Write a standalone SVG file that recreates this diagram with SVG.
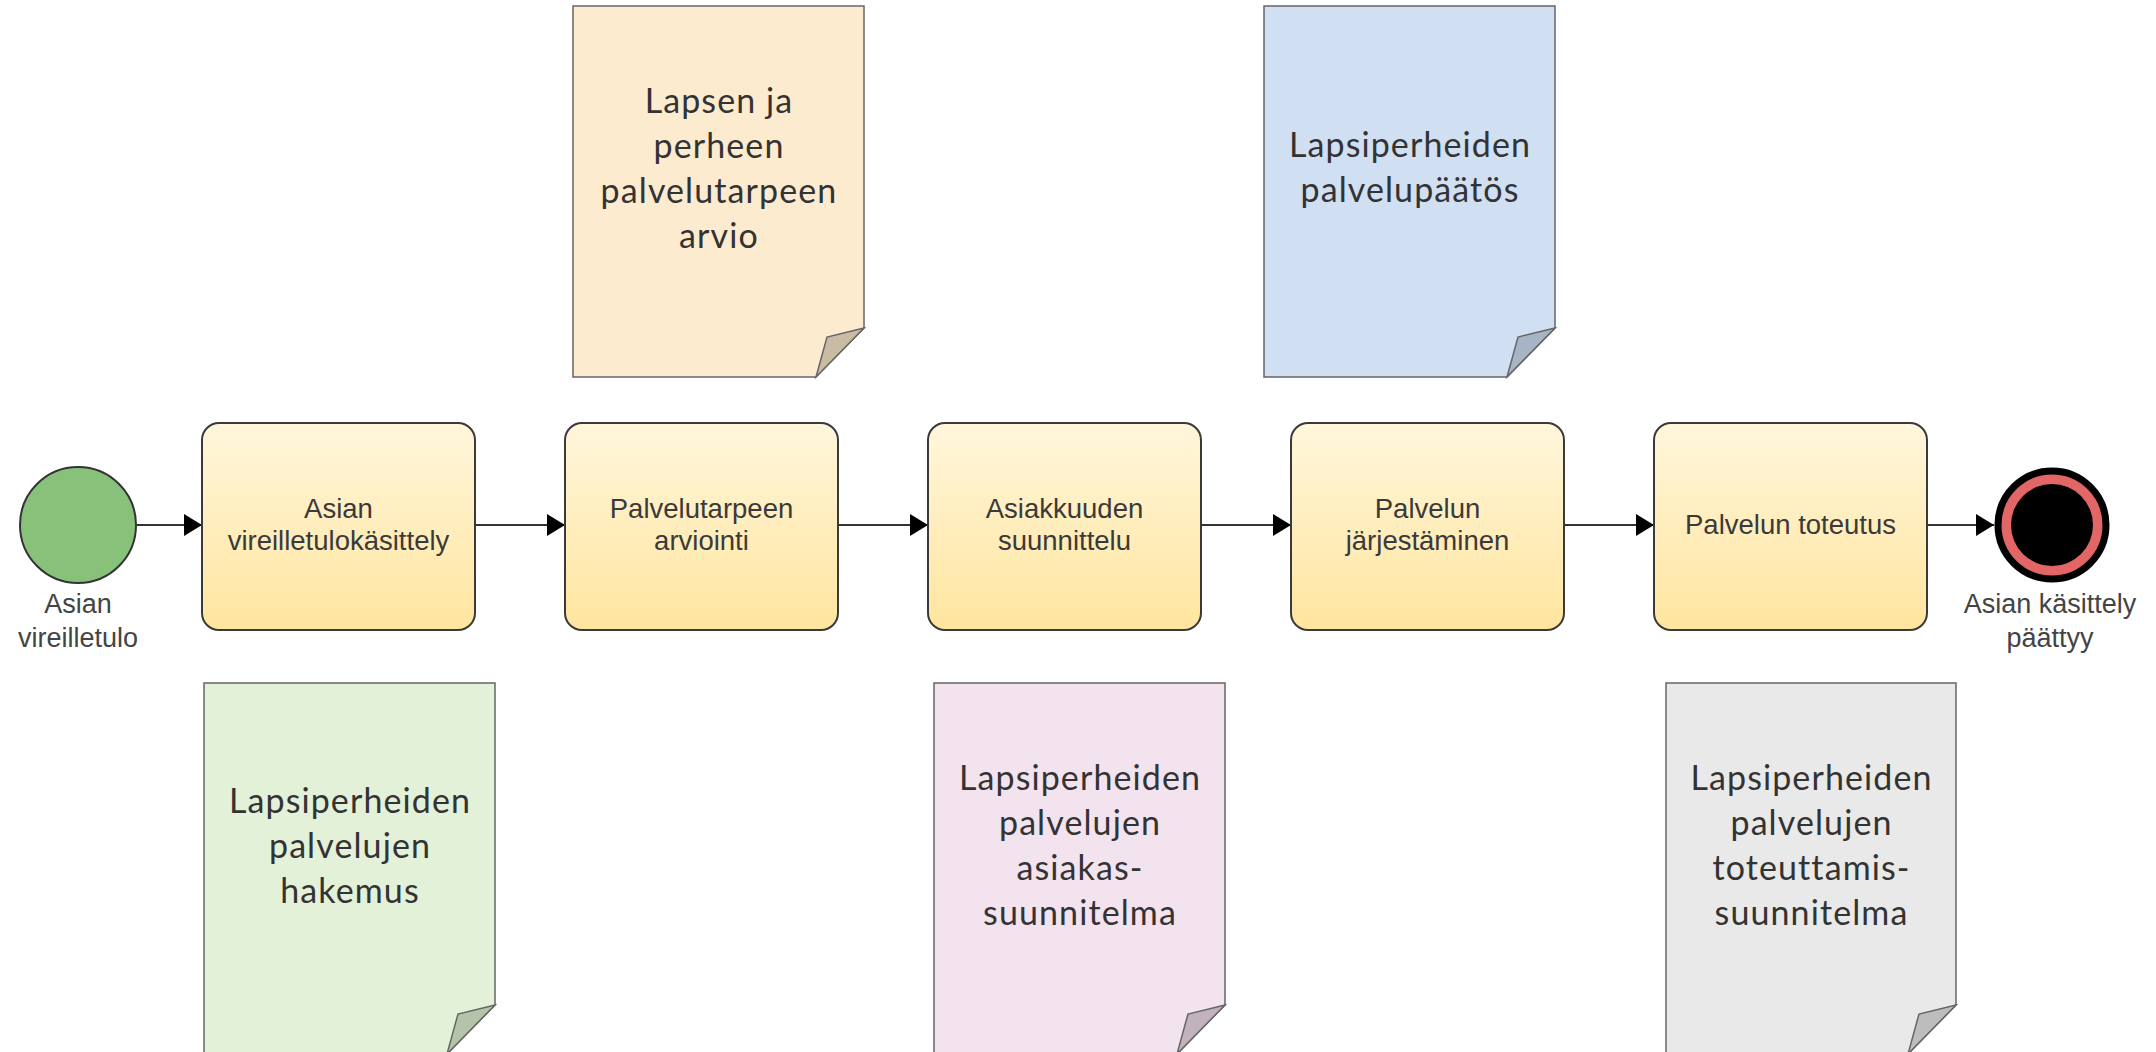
<svg xmlns="http://www.w3.org/2000/svg" width="2156" height="1052" viewBox="0 0 2156 1052">
<style>
.task{stroke:#3a3a3a;stroke-width:2;fill:url(#tg)}
.tt{font-family:"Liberation Sans",Arial,sans-serif;font-size:27.5px;fill:#3a3a3a;text-anchor:middle}
.lbl{font-family:"Liberation Sans",Arial,sans-serif;font-size:27px;fill:#444;text-anchor:middle}
.doc{stroke:#666;stroke-width:1.5}
.fold{stroke:#666;stroke-width:1.5}
.dt{font-family:"Source Sans Pro","Lato","Noto Sans",sans-serif;font-size:34px;letter-spacing:1.1px;fill:#333;text-anchor:middle}
.conn{stroke:#333;stroke-width:2;fill:none}
</style>
<defs>
<linearGradient id="tg" x1="0" y1="0" x2="0" y2="1">
<stop offset="0" stop-color="#fff6dc"/>
<stop offset="1" stop-color="#ffe59e"/>
</linearGradient>
<marker id="arr" markerUnits="userSpaceOnUse" markerWidth="18" markerHeight="22" refX="18" refY="11" orient="auto">
<path d="M0,0 L18,11 L0,22 Z" fill="#000"/>
</marker>
</defs>
<rect width="2156" height="1052" fill="#fff"/>

<g id="connectors">
<line class="conn" x1="137" y1="525" x2="202" y2="525" marker-end="url(#arr)"/>
<line class="conn" x1="475" y1="525" x2="565" y2="525" marker-end="url(#arr)"/>
<line class="conn" x1="838" y1="525" x2="928" y2="525" marker-end="url(#arr)"/>
<line class="conn" x1="1201" y1="525" x2="1291" y2="525" marker-end="url(#arr)"/>
<line class="conn" x1="1564" y1="525" x2="1654" y2="525" marker-end="url(#arr)"/>
<line class="conn" x1="1927" y1="525" x2="1994" y2="525" marker-end="url(#arr)"/>
</g>

<g id="start">
<circle cx="78" cy="525" r="58" fill="#88c27a" stroke="#333" stroke-width="2"/>
<text class="lbl" x="78" y="613">Asian</text>
<text class="lbl" x="78" y="647">vireilletulo</text>
</g>

<g id="task1">
<rect class="task" x="202" y="423" width="273" height="207" rx="17"/>
<text class="tt" x="338.5" y="518">Asian</text>
<text class="tt" x="338.5" y="550">vireilletulokäsittely</text>
</g>
<g id="task2">
<rect class="task" x="565" y="423" width="273" height="207" rx="17"/>
<text class="tt" x="701.5" y="518">Palvelutarpeen</text>
<text class="tt" x="701.5" y="550">arviointi</text>
</g>
<g id="task3">
<rect class="task" x="928" y="423" width="273" height="207" rx="17"/>
<text class="tt" x="1064.5" y="518">Asiakkuuden</text>
<text class="tt" x="1064.5" y="550">suunnittelu</text>
</g>
<g id="task4">
<rect class="task" x="1291" y="423" width="273" height="207" rx="17"/>
<text class="tt" x="1427.5" y="518">Palvelun</text>
<text class="tt" x="1427.5" y="550">järjestäminen</text>
</g>
<g id="task5">
<rect class="task" x="1654" y="423" width="273" height="207" rx="17"/>
<text class="tt" x="1790.5" y="534">Palvelun toteutus</text>
</g>

<g id="end">
<circle cx="2052" cy="525" r="54" fill="#e26666" stroke="#000" stroke-width="7"/>
<circle cx="2052" cy="525" r="41" fill="#000"/>
<text class="lbl" x="2050" y="613">Asian käsittely</text>
<text class="lbl" x="2050" y="647">päättyy</text>
</g>

<g id="doc-arvio">
<path class="doc" d="M573,6 H864 V328 L816,377 H573 Z" fill="#fdebd0"/>
<path class="fold" d="M864,328 L827,337 L816,377 Z" fill="#c9bba4"/>
<text class="dt" x="719" y="113">Lapsen ja</text>
<text class="dt" x="719" y="158">perheen</text>
<text class="dt" x="719" y="203">palvelutarpeen</text>
<text class="dt" x="719" y="248">arvio</text>
</g>

<g id="doc-paatos">
<path class="doc" d="M1264,6 H1555 V328 L1507,377 H1264 Z" fill="#d0dff1"/>
<path class="fold" d="M1555,328 L1518,337 L1507,377 Z" fill="#a7b4c6"/>
<text class="dt" x="1410" y="157">Lapsiperheiden</text>
<text class="dt" x="1410" y="202">palvelupäätös</text>
</g>

<g id="doc-hakemus">
<path class="doc" d="M204,683 H495 V1005 L447,1054 H204 Z" fill="#e3f1d9"/>
<path class="fold" d="M495,1005 L458,1014 L447,1054 Z" fill="#b5c3aa"/>
<text class="dt" x="350" y="813">Lapsiperheiden</text>
<text class="dt" x="350" y="858">palvelujen</text>
<text class="dt" x="350" y="903">hakemus</text>
</g>

<g id="doc-asiakassuunnitelma">
<path class="doc" d="M934,683 H1225 V1005 L1177,1054 H934 Z" fill="#f3e3ee"/>
<path class="fold" d="M1225,1005 L1188,1014 L1177,1054 Z" fill="#c2b2be"/>
<text class="dt" x="1080" y="790">Lapsiperheiden</text>
<text class="dt" x="1080" y="835">palvelujen</text>
<text class="dt" x="1080" y="880">asiakas-</text>
<text class="dt" x="1080" y="925">suunnitelma</text>
</g>

<g id="doc-toteuttamissuunnitelma">
<path class="doc" d="M1666,683 H1956 V1005 L1908,1054 H1666 Z" fill="#e9e9e9"/>
<path class="fold" d="M1956,1005 L1919,1014 L1908,1054 Z" fill="#bdbdbd"/>
<text class="dt" x="1811.5" y="790">Lapsiperheiden</text>
<text class="dt" x="1811.5" y="835">palvelujen</text>
<text class="dt" x="1811.5" y="880">toteuttamis-</text>
<text class="dt" x="1811.5" y="925">suunnitelma</text>
</g>
</svg>
